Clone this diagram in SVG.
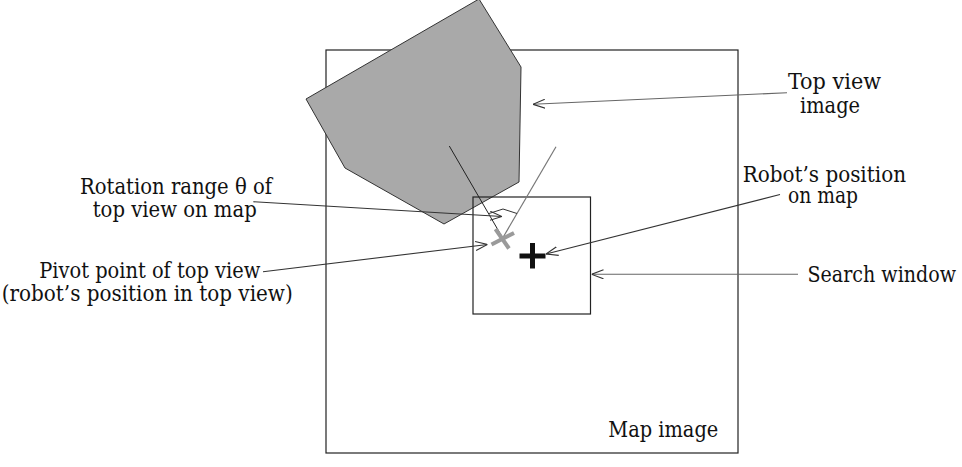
<svg xmlns="http://www.w3.org/2000/svg" width="962" height="467" viewBox="0 0 962 467">
  <style>
    .frame { fill: none; stroke: #222; stroke-width: 1.2; }
    .t { font-family: "DejaVu Serif", "Noto Serif", serif; font-stretch: condensed; font-size: 21.5px; fill: #111; }
    .lead { fill: none; stroke: #333; stroke-width: 1.1; marker-end: url(#open); }
    .lead-grey { fill: none; stroke: #666; stroke-width: 1.1; marker-end: url(#open); }
  </style>
  <defs>
    <marker id="open" viewBox="0 0 12 10" refX="12" refY="5" markerWidth="12" markerHeight="10" markerUnits="userSpaceOnUse" orient="auto">
      <path d="M0,0.5 L12,5 L0,9.5" fill="none" stroke="#333" stroke-width="1.1"/>
    </marker>
  </defs>

  <rect width="962" height="467" fill="#ffffff"/>

  <!-- map image frame -->
  <g id="map-image">
    <rect class="frame" x="326" y="50" width="412" height="403"/>
    <text class="t" x="608.3" y="436.7" textLength="110" lengthAdjust="spacingAndGlyphs">Map image</text>
  </g>

  <!-- top view image (rotated polygon) -->
  <g id="top-view">
    <polygon points="479,-1 521,67 519,182 444,224 345,168 306,99" fill="#a9a9a9" stroke="#333" stroke-width="1"/>
  </g>

  <!-- search window -->
  <g id="search-window">
    <rect class="frame" x="473" y="197" width="117.5" height="117"/>
  </g>

  <!-- rotation rays and angle mark -->
  <g id="rotation">
    <line x1="449.3" y1="146" x2="502.7" y2="238" stroke="#222" stroke-width="1"/>
    <line x1="556" y1="146.7" x2="502.7" y2="238" stroke="#777" stroke-width="1.2"/>
    <polyline points="489,213.5 503,209 517,213.5" fill="none" stroke="#333" stroke-width="1"/>
  </g>

  <!-- pivot point marker -->
  <g id="pivot">
    <line x1="491.5" y1="244.5" x2="514" y2="233" stroke="#9a9a9a" stroke-width="4"/>
    <line x1="495.5" y1="229" x2="509" y2="248.5" stroke="#9a9a9a" stroke-width="4"/>
  </g>

  <!-- robot position on map -->
  <g id="robot">
    <line x1="519.5" y1="256" x2="545.5" y2="256" stroke="#111" stroke-width="5"/>
    <line x1="532.5" y1="243" x2="532.5" y2="268.5" stroke="#111" stroke-width="5"/>
  </g>

  <!-- labels -->
  <g id="label-top-view">
    <text class="t" x="788" y="89" textLength="93" lengthAdjust="spacingAndGlyphs">Top view</text>
    <text class="t" x="800" y="113" textLength="60" lengthAdjust="spacingAndGlyphs">image</text>
  </g>
  <g id="label-rotation">
    <text class="t" x="80" y="194" textLength="192" lengthAdjust="spacingAndGlyphs">Rotation range θ of</text>
    <text class="t" x="92.7" y="216.5" textLength="164" lengthAdjust="spacingAndGlyphs">top view on map</text>
  </g>
  <g id="label-robot">
    <text class="t" x="742.7" y="181.5" textLength="163.3" lengthAdjust="spacingAndGlyphs">Robot’s position</text>
    <text class="t" x="788" y="203" textLength="70" lengthAdjust="spacingAndGlyphs">on map</text>
  </g>
  <g id="label-search">
    <text class="t" x="807.5" y="281.7" textLength="148.5" lengthAdjust="spacingAndGlyphs">Search window</text>
  </g>
  <g id="label-pivot">
    <text class="t" x="39.3" y="278.3" textLength="221" lengthAdjust="spacingAndGlyphs">Pivot point of top view</text>
    <text class="t" x="1.7" y="300.5" textLength="291" lengthAdjust="spacingAndGlyphs">(robot’s position in top view)</text>
  </g>

  <!-- leader lines -->
  <g id="connectors">
    <line class="lead-grey" x1="787" y1="92.7" x2="533" y2="104.3"/>
    <line class="lead" x1="253.3" y1="201.7" x2="502" y2="216.5"/>
    <line class="lead" x1="263" y1="271.7" x2="487.5" y2="244.5"/>
    <line class="lead" x1="780" y1="194.5" x2="546" y2="254"/>
    <line class="lead-grey" x1="798" y1="274.3" x2="591.5" y2="274.3"/>
  </g>
</svg>
